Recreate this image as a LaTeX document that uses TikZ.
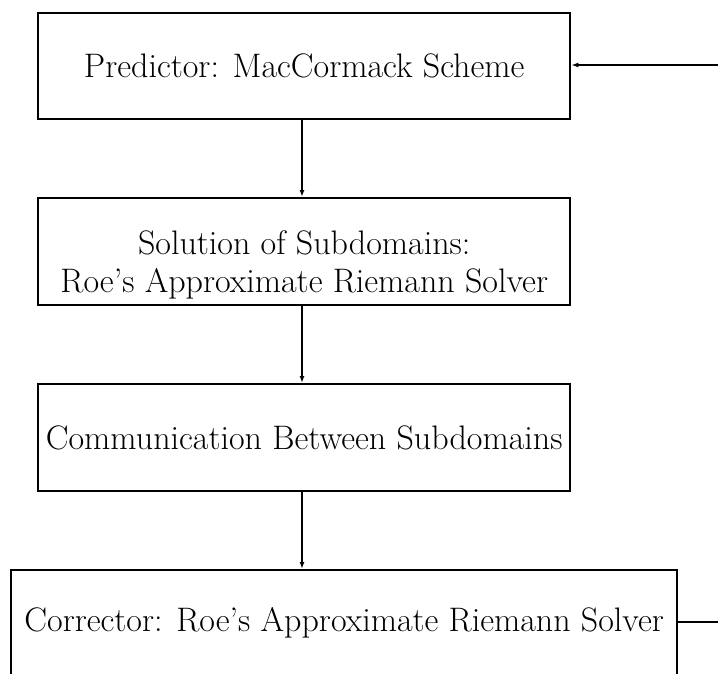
\documentclass[tikz,border=0pt]{standalone}
\usetikzlibrary{arrows.meta}
\begin{document}
\begin{tikzpicture}[x=1pt,y=-1pt,
  stagebox/.style={draw,line width=2.4pt,rectangle,anchor=north west,inner sep=0pt,align=center,
    font=\fontsize{34}{38}\selectfont},
  flow/.style={line width=1.5pt,-{Latex[length=7pt,width=5pt]}}]
\useasboundingbox (0,0) rectangle (718,673);
\clip (0,0) rectangle (718,673);
\node[stagebox,minimum width=532,minimum height=106] (pred) at (37,12) {Predictor: MacCormack Scheme};
\node[stagebox,minimum width=532,minimum height=107] (sol) at (37,197) {\rule{0pt}{50pt}Solution of Subdomains:\\Roe's Approximate Riemann Solver};
\node[stagebox,minimum width=532,minimum height=107] (comm) at (37,383) {Communication Between Subdomains};
\node[stagebox,minimum width=666,minimum height=106] (corr) at (10,569) {Corrector: Roe's Approximate Riemann Solver};
\coordinate (loopa) at (730,622);
\coordinate (loopb) at (730,65);
\draw[flow] (pred.south -| 302,0) -- (sol.north -| 302,0);
\draw[flow] (sol.south -| 302,0) -- (comm.north -| 302,0);
\draw[flow] (comm.south -| 302,0) -- (corr.north -| 302,0);
\draw[flow] (corr.east |- loopa) -- (loopa) -- (loopb) -- (pred.east |- loopb);
\end{tikzpicture}
\end{document}
